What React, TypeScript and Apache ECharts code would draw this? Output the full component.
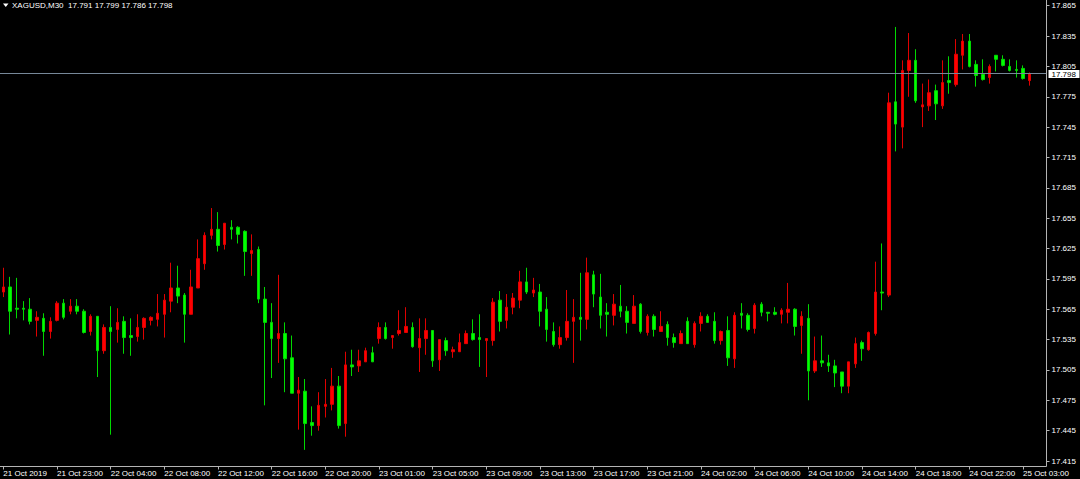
import React, { useEffect, useRef } from "react";
import * as echarts from "echarts";

const FONT = '"Liberation Sans", Arial, sans-serif';

const titleText = "XAGUSD,M30  17.791 17.799 17.786 17.798";
const lastPrice = 17.798;

const yMin = 17.415;
const yMax = 17.865;
const yStep = 0.03;

const xTickLabels = [
  "21 Oct 2019", "21 Oct 23:00", "22 Oct 04:00", "22 Oct 08:00", "22 Oct 12:00",
  "22 Oct 16:00", "22 Oct 20:00", "23 Oct 01:00", "23 Oct 05:00", "23 Oct 09:00",
  "23 Oct 13:00", "23 Oct 17:00", "23 Oct 21:00", "24 Oct 02:00", "24 Oct 06:00",
  "24 Oct 10:00", "24 Oct 14:00", "24 Oct 18:00", "24 Oct 22:00", "25 Oct 03:00",
];

const opens = [
  17.582, 17.587, 17.566, 17.566, 17.565, 17.554, 17.556, 17.543, 17.554, 17.571,
  17.563, 17.568, 17.563, 17.543, 17.558, 17.524, 17.547, 17.545, 17.553, 17.539,
  17.538, 17.547, 17.554, 17.555, 17.560, 17.573, 17.586, 17.579, 17.560, 17.586,
  17.610, 17.638, 17.644, 17.629, 17.646, 17.646, 17.642, 17.620, 17.624, 17.575,
  17.552, 17.536, 17.541, 17.517, 17.482, 17.484, 17.453, 17.450, 17.469, 17.471,
  17.489, 17.452, 17.510, 17.509, 17.513, 17.522, 17.536, 17.547, 17.537, 17.541,
  17.542, 17.547, 17.527, 17.536, 17.544, 17.515, 17.534, 17.523, 17.523, 17.531,
  17.541, 17.537, 17.534, 17.534, 17.574, 17.554, 17.567, 17.574, 17.592, 17.581,
  17.582, 17.565, 17.543, 17.530, 17.537, 17.553, 17.557, 17.555, 17.599, 17.577,
  17.562, 17.559, 17.568, 17.563, 17.551, 17.570, 17.542, 17.558, 17.543, 17.550,
  17.537, 17.531, 17.553, 17.530, 17.551, 17.558, 17.553, 17.534, 17.544, 17.516,
  17.561, 17.559, 17.546, 17.570, 17.562, 17.562, 17.560, 17.562, 17.565, 17.549,
  17.556, 17.504, 17.514, 17.512, 17.509, 17.503, 17.489, 17.511, 17.532, 17.525,
  17.541, 17.582, 17.579, 17.770, 17.745, 17.801, 17.811, 17.765, 17.766, 17.781,
  17.766, 17.791, 17.787, 17.816, 17.830, 17.807, 17.797, 17.794, 17.816, 17.812,
  17.805, 17.802, 17.803, 17.791,
];

const highs = [
  17.606, 17.597, 17.596, 17.573, 17.576, 17.563, 17.561, 17.557, 17.573, 17.575,
  17.575, 17.575, 17.565, 17.560, 17.558, 17.550, 17.568, 17.566, 17.558, 17.556,
  17.560, 17.557, 17.558, 17.580, 17.580, 17.611, 17.608, 17.581, 17.604, 17.634,
  17.641, 17.665, 17.661, 17.650, 17.653, 17.647, 17.643, 17.639, 17.627, 17.587,
  17.571, 17.599, 17.552, 17.539, 17.498, 17.496, 17.469, 17.483, 17.496, 17.507,
  17.499, 17.523, 17.525, 17.525, 17.527, 17.528, 17.552, 17.552, 17.539, 17.564,
  17.567, 17.552, 17.556, 17.556, 17.544, 17.535, 17.537, 17.528, 17.541, 17.544,
  17.555, 17.560, 17.536, 17.576, 17.583, 17.580, 17.581, 17.603, 17.606, 17.596,
  17.590, 17.577, 17.552, 17.548, 17.584, 17.575, 17.601, 17.616, 17.603, 17.600,
  17.571, 17.580, 17.589, 17.568, 17.579, 17.571, 17.560, 17.560, 17.563, 17.553,
  17.541, 17.544, 17.557, 17.553, 17.562, 17.560, 17.562, 17.544, 17.558, 17.562,
  17.571, 17.561, 17.571, 17.572, 17.562, 17.567, 17.566, 17.591, 17.566, 17.563,
  17.570, 17.538, 17.539, 17.520, 17.515, 17.503, 17.513, 17.537, 17.534, 17.543,
  17.612, 17.630, 17.779, 17.844, 17.811, 17.838, 17.822, 17.788, 17.792, 17.787,
  17.811, 17.815, 17.832, 17.837, 17.837, 17.811, 17.812, 17.807, 17.816, 17.816,
  17.812, 17.811, 17.806, 17.799,
];

const lows = [
  17.577, 17.540, 17.556, 17.554, 17.550, 17.538, 17.519, 17.536, 17.553, 17.555,
  17.560, 17.560, 17.541, 17.539, 17.498, 17.521, 17.441, 17.532, 17.521, 17.519,
  17.533, 17.535, 17.549, 17.548, 17.537, 17.562, 17.571, 17.532, 17.560, 17.586,
  17.604, 17.634, 17.622, 17.624, 17.634, 17.630, 17.598, 17.598, 17.571, 17.470,
  17.497, 17.512, 17.483, 17.482, 17.446, 17.426, 17.440, 17.445, 17.458, 17.465,
  17.447, 17.439, 17.499, 17.503, 17.513, 17.513, 17.531, 17.535, 17.526, 17.539,
  17.542, 17.527, 17.503, 17.520, 17.508, 17.504, 17.519, 17.517, 17.523, 17.531,
  17.534, 17.508, 17.498, 17.529, 17.543, 17.546, 17.560, 17.566, 17.580, 17.577,
  17.548, 17.533, 17.528, 17.526, 17.534, 17.512, 17.534, 17.545, 17.567, 17.546,
  17.538, 17.549, 17.557, 17.541, 17.551, 17.541, 17.539, 17.538, 17.543, 17.529,
  17.527, 17.531, 17.531, 17.527, 17.543, 17.552, 17.531, 17.530, 17.509, 17.507,
  17.546, 17.543, 17.541, 17.558, 17.553, 17.559, 17.551, 17.551, 17.539, 17.521,
  17.475, 17.502, 17.508, 17.503, 17.488, 17.482, 17.482, 17.507, 17.514, 17.524,
  17.539, 17.564, 17.577, 17.721, 17.724, 17.775, 17.769, 17.745, 17.761, 17.752,
  17.763, 17.778, 17.785, 17.802, 17.804, 17.785, 17.791, 17.788, 17.800, 17.805,
  17.800, 17.794, 17.792, 17.786,
];

const closes = [
  17.587, 17.563, 17.565, 17.565, 17.553, 17.557, 17.543, 17.553, 17.571, 17.557,
  17.568, 17.563, 17.542, 17.558, 17.524, 17.547, 17.543, 17.552, 17.537, 17.537,
  17.547, 17.556, 17.557, 17.561, 17.574, 17.586, 17.578, 17.560, 17.587, 17.615,
  17.638, 17.644, 17.628, 17.650, 17.644, 17.639, 17.622, 17.623, 17.575, 17.552,
  17.536, 17.541, 17.516, 17.482, 17.485, 17.452, 17.450, 17.470, 17.471, 17.489,
  17.450, 17.510, 17.508, 17.514, 17.524, 17.513, 17.547, 17.536, 17.539, 17.544,
  17.548, 17.528, 17.536, 17.544, 17.514, 17.535, 17.524, 17.525, 17.532, 17.541,
  17.535, 17.535, 17.536, 17.572, 17.553, 17.567, 17.576, 17.592, 17.582, 17.584,
  17.563, 17.545, 17.530, 17.537, 17.553, 17.557, 17.555, 17.601, 17.580, 17.559,
  17.560, 17.570, 17.563, 17.552, 17.568, 17.543, 17.558, 17.545, 17.548, 17.537,
  17.532, 17.541, 17.531, 17.551, 17.558, 17.552, 17.534, 17.543, 17.517, 17.559,
  17.559, 17.545, 17.569, 17.562, 17.561, 17.560, 17.564, 17.565, 17.548, 17.558,
  17.504, 17.514, 17.512, 17.509, 17.502, 17.489, 17.513, 17.531, 17.526, 17.542,
  17.582, 17.581, 17.769, 17.748, 17.801, 17.811, 17.771, 17.767, 17.779, 17.768,
  17.789, 17.789, 17.817, 17.830, 17.805, 17.796, 17.792, 17.805, 17.812, 17.806,
  17.801, 17.801, 17.793, 17.798,
];

// 30-minute bars from 21 Oct 2019 19:00, with the daily break 00:00-01:00
function buildCategories(count: number, shift: number): string[] {
  const pad = (n: number) => (n < 10 ? "0" + n : "" + n);
  const out: string[] = [];
  let day = 21;
  let minutes = 19 * 60;
  while (out.length < count) {
    const h = Math.floor(minutes / 60);
    const m = minutes % 60;
    if (h !== 0) out.push(`${day} Oct ${pad(h)}:${pad(m)}`);
    minutes += 30;
    if (minutes >= 1440) {
      minutes -= 1440;
      day += 1;
    }
  }
  for (let i = 0; i < shift; i++) out.push("");
  return out;
}

export default function App() {
  const ref = useRef<HTMLDivElement>(null);

  useEffect(() => {
    if (!ref.current) return;
    const chart = echarts.init(ref.current, undefined, { renderer: "svg" });
    const n = opens.length;
    const categories = buildCategories(n, 2);
    const data = opens.map((o, i) => [o, closes[i], lows[i], highs[i]]);
    const showTick = (i: number) => i % 8 === 0 && i < n;
    const axisGrey = "#b4b4b4";
    const plotRight = 1046.5;
    const plotBottom = 466.5;

    chart.setOption({
      animation: false,
      backgroundColor: "#000000",
      grid: { left: -2.86, right: 1080 - plotRight, top: 5.7, bottom: 18, containLabel: false },
      xAxis: {
        type: "category",
        data: categories,
        boundaryGap: true,
        offset: 5.5,
        axisLine: { show: false },
        axisTick: {
          show: true,
          alignWithLabel: true,
          interval: (i: number) => showTick(i),
          length: 3,
          lineStyle: { color: axisGrey, width: 1 },
        },
        axisLabel: {
          interval: (i: number) => showTick(i),
          formatter: (_v: string, i: number) => xTickLabels[Math.round(i / 8)] ?? "",
          align: "left",
          color: "#ffffff",
          fontSize: 8,
          fontFamily: FONT,
          margin: 3,
        },
        splitLine: { show: false },
      },
      yAxis: {
        type: "value",
        position: "right",
        min: yMin,
        max: yMax,
        interval: yStep,
        axisLine: { show: false },
        axisTick: { show: true, length: 3, lineStyle: { color: axisGrey, width: 1 } },
        axisLabel: {
          color: "#ffffff",
          fontSize: 8,
          lineHeight: 7,
          fontFamily: FONT,
          margin: 5,
          formatter: (v: number) => v.toFixed(3),
        },
        splitLine: { show: false },
      },
      series: [
        {
          type: "candlestick",
          data,
          barWidth: 3,
          itemStyle: {
            color: "#ff0000",
            color0: "#00ff00",
            borderColor: "#e00000",
            borderColor0: "#00d800",
            borderWidth: 1,
          },
        },
      ],
    });

    // current-price line and its label, placed through the y axis scale
    const py = chart.convertToPixel({ yAxisIndex: 0 }, lastPrice) as number;
    const lineY = Math.round(py - 0.5) + 0.5;

    chart.setOption({
      graphic: [
        {
          type: "line",
          shape: { x1: 0, y1: lineY, x2: plotRight, y2: lineY },
          style: { stroke: "#778899", lineWidth: 1 },
          z: 5,
        },
        {
          type: "rect",
          shape: { x: plotRight + 2, y: lineY - 3.5, width: 31, height: 8 },
          style: { fill: "#ffffff" },
          z: 20,
        },
        {
          type: "text",
          x: plotRight + 5,
          y: lineY + 0.5,
          style: {
            text: lastPrice.toFixed(3),
            fill: "#000000",
            fontSize: 8,
            lineHeight: 8,
            fontFamily: FONT,
            verticalAlign: "middle",
          },
          z: 21,
        },
        {
          type: "line",
          shape: { x1: plotRight, y1: 0, x2: plotRight, y2: plotBottom },
          style: { stroke: axisGrey, lineWidth: 1 },
          z: 10,
        },
        {
          type: "line",
          shape: { x1: 0, y1: plotBottom, x2: plotRight, y2: plotBottom },
          style: { stroke: axisGrey, lineWidth: 1 },
          z: 10,
        },
        {
          type: "polygon",
          shape: { points: [[3, 3.5], [8.5, 3.5], [5.75, 7]] },
          style: { fill: "#ffffff" },
          z: 10,
        },
        {
          type: "text",
          x: 12,
          y: 5,
          style: {
            text: titleText,
            fill: "#ffffff",
            fontSize: 8,
            fontFamily: FONT,
            verticalAlign: "middle",
          },
          z: 10,
        },
      ],
    });

    return () => chart.dispose();
  }, []);

  return (
    <div
      ref={ref}
      style={{ position: "fixed", left: 0, top: 0, width: 1080, height: 479, background: "#000" }}
    />
  );
}
